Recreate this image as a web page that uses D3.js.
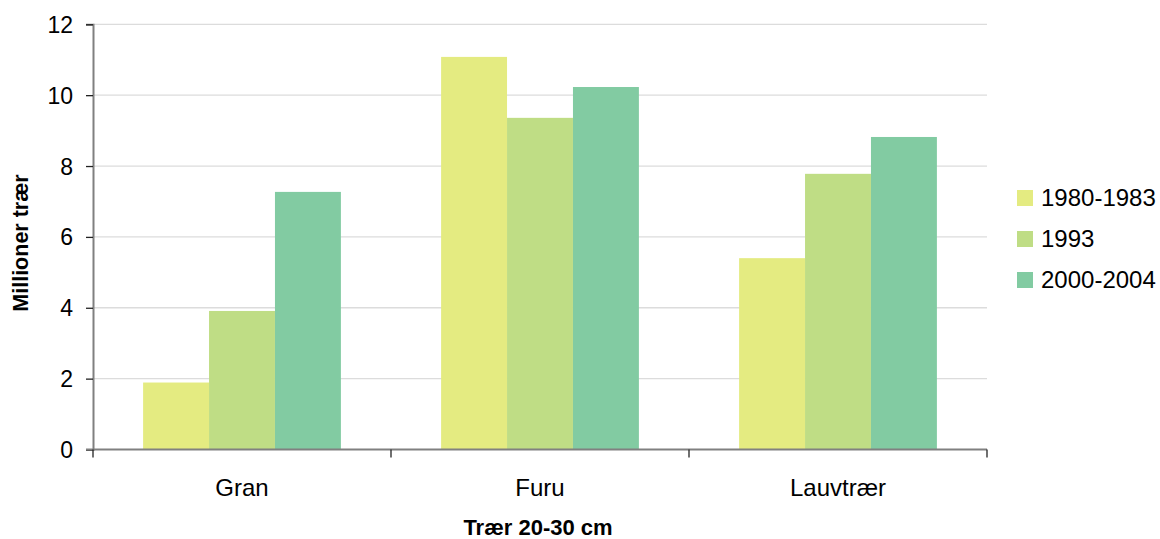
<!DOCTYPE html>
<html>
<head>
<meta charset="utf-8">
<script src="https://cdn.jsdelivr.net/npm/d3@7"></script>
<style>
  html, body { margin: 0; padding: 0; background: #fff; }
  svg { display: block; font-family: "Liberation Sans", Arial, sans-serif; }
</style>
</head>
<body>
<svg id="chart" width="1160" height="539"></svg>
<script>
// Trees 20-30 cm, millions, by species and inventory period
const categories = ["Gran", "Furu", "Lauvtrær"];
const series = ["1980-1983", "1993", "2000-2004"];
const values1980 = [1.89, 11.08, 5.40];
const values1993 = [3.91, 9.36, 7.78];
const values2000 = [7.27, 10.23, 8.82];
const yTicks = [0, 2, 4, 6, 8, 10, 12];
const colors = ["#E4EB81", "#BFDD85", "#82CBA2"];

const seriesValues = [values1980, values1993, values2000];

const svg = d3.select("#chart");
const plotLeft = 93, plotRight = 987, plotTop = 24.3, plotBottom = 449.5;

const x = d3.scaleBand().domain(categories).range([plotLeft, plotRight]).paddingInner(0).paddingOuter(0);
const xInner = d3.scaleBand().domain(series).range([0, x.bandwidth()]).paddingInner(0).paddingOuter(0.76);
const y = d3.scaleLinear().domain([0, 12]).range([plotBottom, plotTop]);

// gridlines
svg.append("g")
  .selectAll("line")
  .data(yTicks.filter(d => d > 0))
  .join("line")
  .attr("x1", plotLeft).attr("x2", plotRight)
  .attr("y1", d => y(d)).attr("y2", d => y(d))
  .attr("stroke", "#dcdcdc").attr("stroke-width", 1.3);

// bars
const rows = categories.map((c, i) => ({ cat: c, vals: series.map((s, j) => ({ s, j, v: seriesValues[j][i] })) }));
svg.append("g")
  .selectAll("g")
  .data(rows)
  .join("g")
  .attr("transform", d => `translate(${x(d.cat)},0)`)
  .selectAll("rect")
  .data(d => d.vals)
  .join("rect")
  .attr("x", d => xInner(d.s))
  .attr("width", xInner.bandwidth())
  .attr("y", d => y(d.v))
  .attr("height", d => y(0) - y(d.v))
  .attr("fill", d => colors[d.j]);

// y axis
const yAxis = svg.append("g")
  .attr("transform", `translate(${plotLeft},0)`)
  .call(d3.axisLeft(y).tickValues(yTicks).tickSize(7).tickPadding(13).tickFormat(d3.format("d")));
yAxis.select(".domain").attr("stroke", "#808080").attr("stroke-width", 2);
yAxis.selectAll(".tick line").attr("stroke", "#222").attr("stroke-width", 1.3);
yAxis.selectAll("text").attr("font-size", 23).attr("fill", "#000").attr("dy", "0.35em");

// x axis with tick marks at category boundaries
const xAxisG = svg.append("g").attr("transform", `translate(0,${plotBottom})`);
xAxisG.append("line")
  .attr("x1", plotLeft - 7).attr("x2", plotRight)
  .attr("stroke", "#808080").attr("stroke-width", 2);
const bounds = [plotLeft, ...categories.map(c => x(c) + x.bandwidth())];
xAxisG.selectAll("line.tk")
  .data(bounds)
  .join("line")
  .attr("class", "tk")
  .attr("x1", d => d).attr("x2", d => d)
  .attr("y1", 0).attr("y2", 8)
  .attr("stroke", "#222").attr("stroke-width", 1.3);
xAxisG.selectAll("text")
  .data(categories)
  .join("text")
  .attr("x", d => x(d) + x.bandwidth() / 2)
  .attr("y", 46)
  .attr("text-anchor", "middle")
  .attr("font-size", 24)
  .attr("fill", "#000")
  .text(d => d);

// axis titles
svg.append("text")
  .attr("transform", `translate(28,243) rotate(-90)`)
  .attr("text-anchor", "middle")
  .attr("font-size", 21.5)
  .attr("font-weight", "bold")
  .text("Millioner trær");

svg.append("text")
  .attr("x", 538).attr("y", 535)
  .attr("text-anchor", "middle")
  .attr("font-size", 22)
  .attr("font-weight", "bold")
  .text("Trær 20-30 cm");

// legend
const legend = svg.append("g").attr("transform", "translate(1017,190)");
const item = legend.selectAll("g")
  .data(series)
  .join("g")
  .attr("transform", (d, i) => `translate(0,${i * 41})`);
item.append("rect").attr("width", 16).attr("height", 16).attr("fill", (d, i) => colors[i]);
item.append("text")
  .attr("x", 24).attr("y", 8).attr("dy", "0.35em")
  .attr("font-size", 24)
  .text(d => d);
</script>
</body>
</html>
